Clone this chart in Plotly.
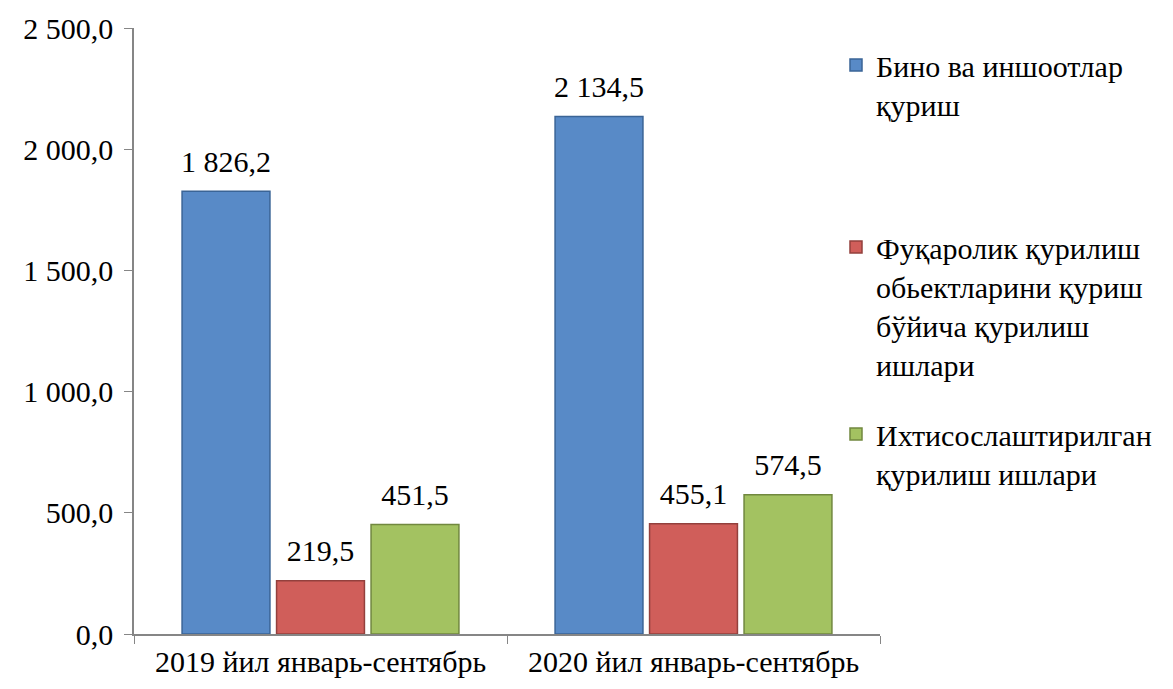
import plotly.graph_objects as go

categories = ["2019 йил январь-сентябрь", "2020 йил январь-сентябрь"]
series_names = [
    "Бино ва иншоотлар<br>қуриш",
    "Фуқаролик қурилиш<br>обьектларини қуриш<br>бўйича қурилиш<br>ишлари",
    "Ихтисослаштирилган<br>қурилиш ишлари",
]
bino = [1826.2, 2134.5]
fuqarolik = [219.5, 455.1]
ixtisos = [451.5, 574.5]
tick_vals = [0, 500, 1000, 1500, 2000, 2500]

colors = ["#588AC7", "#D05E5A", "#A3C261"]
edges = ["#3A6496", "#93403D", "#71883F"]
values = [bino, fuqarolik, ixtisos]
legends = ["legend", "legend2", "legend3"]

FONT = "Times New Roman, Liberation Serif, serif"
FS = 30

fig = go.Figure()
for i, (name, vals, c, e, lg) in enumerate(zip(series_names, values, colors, edges, legends)):
    fig.add_trace(go.Bar(
        x=categories, y=vals, name=name,
        marker=dict(color=c, line=dict(color=e, width=1.5)),
        offsetgroup=str(i), hoverinfo="skip",
        legend=lg, showlegend=True,
    ))
for i, vals in enumerate(values):
    fig.add_trace(go.Scatter(
        x=categories, y=vals, mode="markers+text",
        marker=dict(size=18, opacity=0),
        text=[f"{v:,.1f}".replace(",", " ").replace(".", ",") for v in vals],
        textposition="top center",
        textfont=dict(family=FONT, size=FS, color="#000"),
        offsetgroup=str(i), showlegend=False, hoverinfo="skip",
        cliponaxis=False,
    ))

leg_common = dict(font=dict(family=FONT, size=FS, color="#000"),
                  bgcolor="rgba(0,0,0,0)", xref="container", yref="container",
                  xanchor="left", yanchor="top", itemwidth=30, valign="top")

fig.update_layout(
    width=1173, height=689, autosize=False,
    showlegend=True,
    paper_bgcolor="white", plot_bgcolor="white",
    separators=", ",
    barmode="group", bargap=0.24, bargroupgap=0.07,
    scattermode="group", scattergap=0.24,
    margin=dict(l=126, r=301, t=20, b=63, autoexpand=False),
    font=dict(family=FONT, size=FS, color="#000"),
    xaxis=dict(showline=True, linecolor="#868686", linewidth=1.5,
               ticks="outside", tickson="boundaries", ticklen=8,
               tickcolor="#868686", tickfont=dict(family=FONT, size=FS),
               tickangle=0, automargin=False),
    yaxis=dict(range=[0, 2500], tickvals=tick_vals, tickformat=",.1f",
               showline=True, linecolor="#868686", linewidth=1.5,
               ticks="outside", ticklen=8, tickcolor="#868686",
               ticklabelstandoff=5,
               showgrid=False, zeroline=False, automargin=False,
               tickfont=dict(family=FONT, size=FS)),
    legend=dict(x=828/1173, y=1 - 31/689, **leg_common),
    legend2=dict(x=828/1173, y=1 - 213/689, **leg_common),
    legend3=dict(x=828/1173, y=1 - 400/689, **leg_common),
)

fig.write_html("out.html")
